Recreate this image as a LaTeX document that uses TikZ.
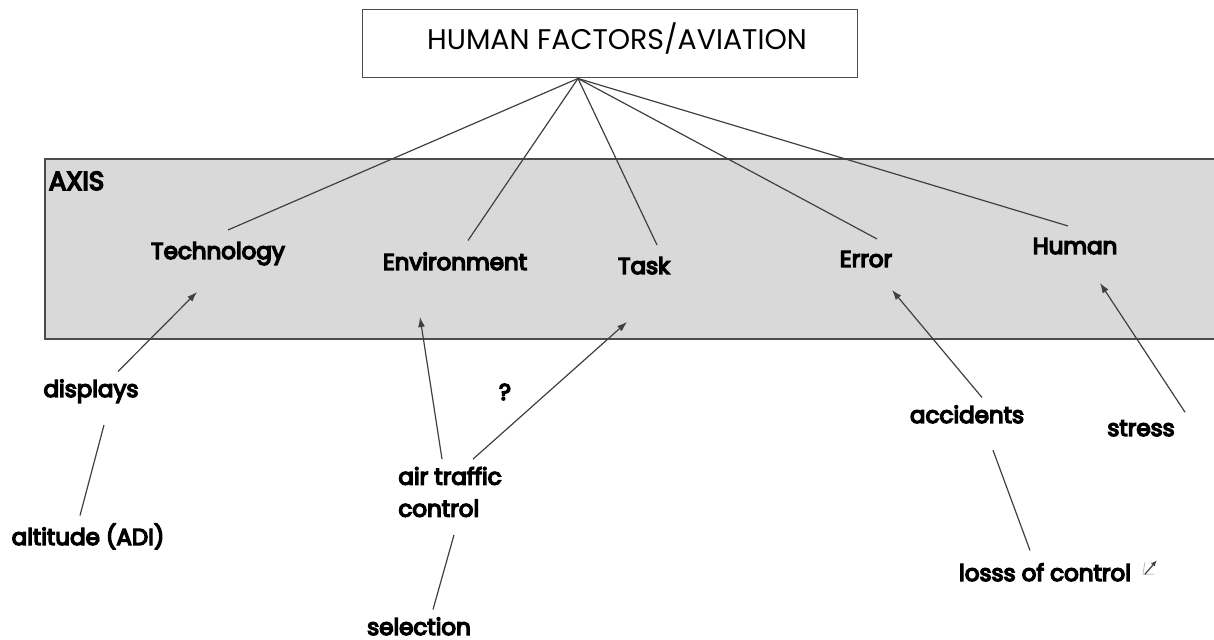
\documentclass[tikz,border=0pt]{standalone}
\usepackage{fontspec}
\setmainfont{Poppins}
\newfontfamily\labelfont[FakeBold=6]{Poppins}
\usetikzlibrary{arrows.meta,calc}

\begin{document}
\begin{tikzpicture}[x=0.5pt,y=-0.5pt]
  \tikzset{factor/.style = {font=\labelfont\fontsize{11.5}{13}\selectfont,anchor=base,inner sep=0pt,outer sep=6pt}}
  \tikzset{cue/.style = {font=\labelfont\fontsize{11.5}{16}\selectfont,anchor=base,inner sep=0pt,outer sep=4pt}}
  \tikzset{link/.style = {draw=black!75,line width=0.6pt}}
  \tikzset{lead/.style = {link,-{Latex[length=5pt,width=3.5pt]}}}

  \useasboundingbox (0,0) rectangle (1214,640);

  % axis band
  \fill[gray!30] (45,159) rectangle (1230,339);
  \draw[gray!60!black,line width=0.6pt] (1230,159) -- (45,159) -- (45,339) -- (1230,339);

  \node[draw=black!70,line width=0.5pt,minimum width=247.5pt,minimum height=34pt,text height=10pt,text depth=4pt,font=\fontsize{14.2}{16}\selectfont] (title) at (610,44) {\hspace{7pt}HUMAN FACTORS/AVIATION};
  \coordinate (apex) at ($(title.south)+(-32,0)$);

  \node[factor,font=\labelfont\fontsize{13}{15}\selectfont] (axis) at (76.5,190) {AXIS};
  \node[factor] (tech) at (218,259) {Technology};
  \node[factor] (env)  at (455,270) {Environment};
  \node[factor] (task) at (644,274) {Task};
  \node[factor] (err)  at (866,267) {Error};
  \node[factor] (hum)  at (1075,254) {Human};

  \node[cue] (disp)   at (91,397) {displays};
  \node[cue] (alt)    at (88,545) {altitude (ADI)};
  \node[cue,anchor=center,align=left] (atc) at (450,492) {air traffic\\control};
  \node[cue] (quest)  at (505,400) {?};
  \node[cue] (sel)    at (419,635) {selection};
  \node[cue] (acc)    at (967,423) {accidents};
  \node[cue] (stress) at (1141,436) {stress};
  \node[cue] (loss)   at (1045,581) {losss of control};

  \coordinate (techtip) at (197,292);
  \coordinate (envtip)  at (420,317);
  \coordinate (tasktip) at (627,322);
  \coordinate (errtip)  at (892,290);
  \coordinate (humtip)  at (1100,283);

  \foreach \to/\dx in {tech/5,env/6.5,task/6.5,err/5.5,hum/-3.5}
    \draw[link] (apex) -- ([xshift=\dx pt]\to.north);

  \foreach \from/\dx/\to in {disp/13.5/techtip, atc/-4/envtip, atc/11.5/tasktip, acc/7.5/errtip, stress/22/humtip}
    \draw[lead] ([xshift=\dx pt]\from.north) -- (\to);

  \draw[link] ([xshift=-4pt]alt.north) -- ([xshift=6.5pt,yshift=-7pt]disp.south);
  \draw[link] ([xshift=7pt]sel.north) -- ([xshift=2pt,yshift=-5pt]atc.south);
  \draw[link] ([xshift=-7.5pt,yshift=2.5pt]loss.north) -- ([xshift=13pt,yshift=-9.5pt]acc.south);

  % little mark after losss of control
  \draw[gray!55,line width=0.4pt] ([xshift=3pt,yshift=5pt]loss.east) -- ++(-2,12) -- ++(11,0);
  \draw[link,-{Latex[length=3pt,width=2.5pt]}] ([xshift=3pt,yshift=-1pt]loss.east) -- ++(12,-14);
\end{tikzpicture}
\end{document}
